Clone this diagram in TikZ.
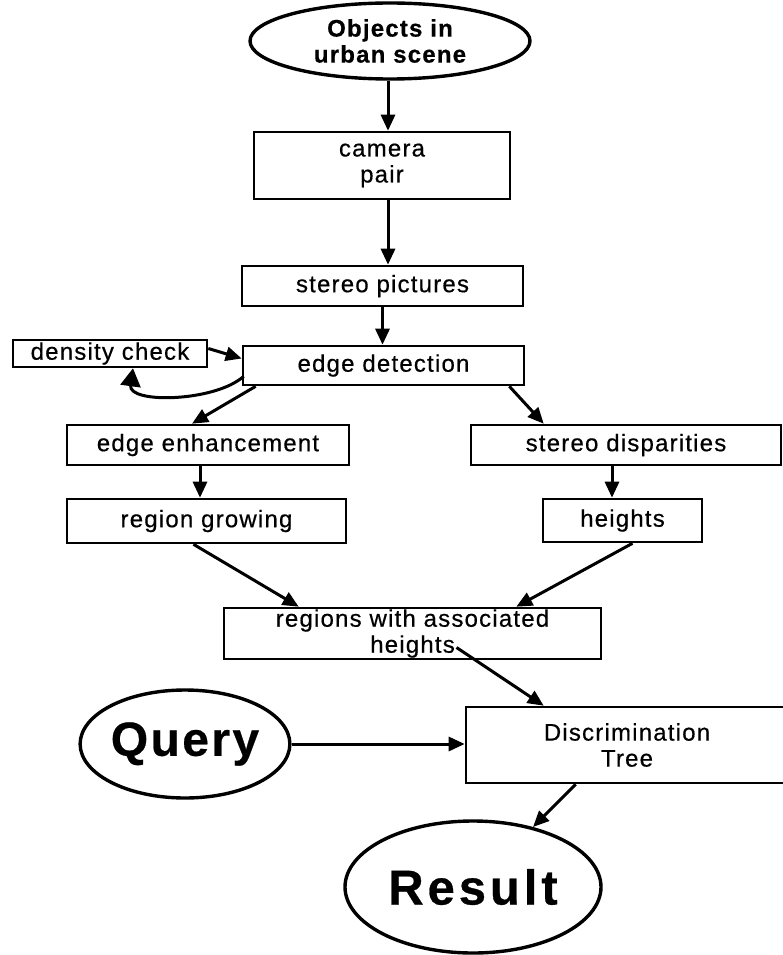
\documentclass[tikz,border=0pt]{standalone}
\usepackage{fontspec}
\setmainfont{Liberation Sans}[LetterSpace=5,FakeBold=0.5]
\usetikzlibrary{arrows.meta,calc,shapes.geometric}
\begin{document}
\begin{tikzpicture}[x=1pt,y=-1pt,
  box/.style={draw,line width=2.6pt,rectangle,inner sep=0pt,align=center,
    font=\fontsize{24}{26}\selectfont},
  oval/.style={draw,line width=3.4pt,ellipse,inner sep=0pt,align=center},
  arr/.style={line width=3pt,-{Triangle[length=16pt,width=14pt]}},
]
\useasboundingbox (0,0) rectangle (783,955);
% nodes
\node[oval,minimum width=280pt,minimum height=76pt,
  font=\bfseries\fontsize{24}{26}\selectfont] (obj) at (390,41) {Objects in\\urban scene};
\node[box,minimum width=256pt,minimum height=67pt] (cam) at (382,165.5) {camera\\pair};
\node[box,minimum width=281pt,minimum height=40pt] (stp) at (382.5,286) {stereo pictures};
\node[box,minimum width=281pt,minimum height=39pt] (edge) at (383.5,365.5) {edge detection};
\node[box,minimum width=194pt,minimum height=27pt] (dens) at (110,353.5) {density check};
\node[box,minimum width=282pt,minimum height=40pt] (enh) at (208,445) {edge enhancement};
\node[box,minimum width=279pt,minimum height=44pt] (grow) at (206.5,521) {region growing};
\node[box,minimum width=310pt,minimum height=40pt] (disp) at (626,445) {stereo disparities};
\node[box,minimum width=159pt,minimum height=43pt] (hts) at (622.5,520.5) {heights};
\node[box,minimum width=377pt,minimum height=51pt] (reg) at (412.5,633.5) {regions with associated\\heights};
\node[box,minimum width=322pt,minimum height=76pt] (disc) at (627,745) {Discrimination\\Tree};
\node[oval,minimum width=190pt,minimum height=108pt,
  font=\bfseries\fontsize{48}{52}\selectfont] (query) at (185,744) {Query};
\node[oval,minimum width=256pt,minimum height=132pt,
  font=\bfseries\fontsize{49}{52}\selectfont\addfontfeature{LetterSpace=8}] (res) at (473,887) {Result};
% connectors
\draw[arr] ($(obj.south)+(-2,0)$) -- ($(obj.south |- cam.north)+(-2,0)$);
\draw[arr] ($(cam.south)+(6,0)$) -- ($(cam.south |- stp.north)+(6,0)$);
\draw[arr] (stp.south) -- (stp.south |- edge.north);
\draw[arr] ($(dens.east)+(0,-5)$) -- ($(edge.west)+(0,-7)$);
\draw[line width=3pt,-{Triangle[length=18pt,width=20pt]}]
  ($(edge.south west)+(2,-10)$) .. controls (215,402) and (128,404) .. ($(dens.south)+(23,0)$);
\draw[arr] ($(edge.south west)+(14,0)$) -- ($(enh.north)+(-16,0)$);
\draw[arr] ($(edge.south east)+(-16,0)$) -- ($(disp.north west)+(74,0)$);
\draw[arr] ($(enh.south)+(-8,0)$) -- ($(enh.south |- grow.north)+(-8,0)$);
\draw[arr] ($(disp.south)+(-14,0)$) -- ($(disp.south |- hts.north)+(-14,0)$);
\draw[arr] ($(grow.south)+(-13,0)$) -- ($(reg.north west)+(76,0)$);
\draw[arr] ($(hts.south)+(10,0)$) -- ($(reg.north east)+(-86,0)$);
\draw[arr] ($(reg.center)+(44,14)$) -- ($(disc.north west)+(79,0)$);
\draw[arr] (query.east) -- (query.east -| disc.west);
\draw[arr] ($(disc.south west)+(111,0)$) -- (res);
\end{tikzpicture}
\end{document}
